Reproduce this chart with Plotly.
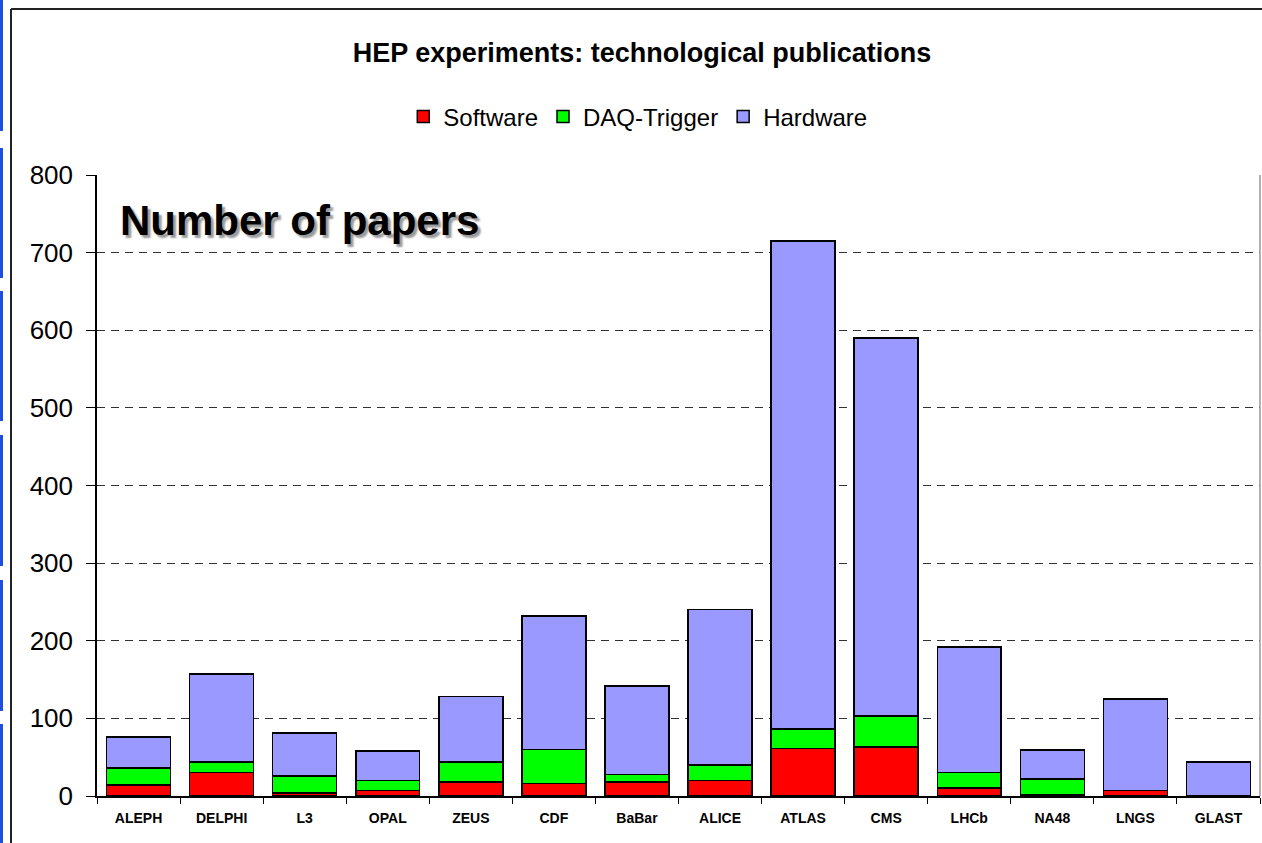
import plotly.graph_objects as go

experiments = ["ALEPH", "DELPHI", "L3", "OPAL", "ZEUS", "CDF", "BaBar", "ALICE",
               "ATLAS", "CMS", "LHCb", "NA48", "LNGS", "GLAST"]
software = [14, 30, 4, 7, 18, 16, 18, 20, 61, 63, 10, 2, 7, 0]
daq_trigger = [22, 14, 22, 13, 26, 44, 10, 20, 25, 40, 20, 20, 0, 0]
hardware = [40, 113, 55, 38, 84, 172, 114, 200, 629, 487, 162, 37, 118, 44]

y_ticks = [0, 100, 200, 300, 400, 500, 600, 700, 800]

FONT = "Arial, Liberation Sans, sans-serif"

fig = go.Figure()
for name, vals, col in [("Software", software, "#FF0000"),
                        ("DAQ-Trigger", daq_trigger, "#00FF00"),
                        ("Hardware", hardware, "#9999FF")]:
    fig.add_trace(go.Bar(x=experiments, y=vals, name=name,
                         marker=dict(color=col, line=dict(color="black", width=1.5))))

shapes = []
# outer chart frame (left and top edges)
shapes.append(dict(type="line", xref="paper", yref="paper", xsizemode="pixel", ysizemode="pixel",
                   xanchor=0, yanchor=0, x0=-86, x1=-86, y0=-60, y1=787,
                   line=dict(color="#222", width=2)))
shapes.append(dict(type="line", xref="paper", yref="paper", xsizemode="pixel", ysizemode="pixel",
                   xanchor=0, yanchor=0, x0=-86, x1=1180, y0=787, y1=787,
                   line=dict(color="#222", width=2)))
# right border of plot area
shapes.append(dict(type="line", xref="paper", yref="paper", x0=1, x1=1, y0=0, y1=1,
                   line=dict(color="#999", width=1.5)))
# blue slide edge segments
for top, bot in [(0, 131), (148, 278), (291, 421), (435, 566), (580, 711), (724, 843)]:
    shapes.append(dict(type="rect", xref="paper", yref="paper", xsizemode="pixel", ysizemode="pixel",
                       xanchor=0, yanchor=0, x0=-97, x1=-94, y0=796 - bot, y1=796 - top,
                       line=dict(width=0), fillcolor="#1f4fe0"))

fig.update_layout(
    barmode="stack",
    bargap=0.23,
    width=1262, height=843,
    margin=dict(l=97, r=2, t=175, b=47),
    paper_bgcolor="white", plot_bgcolor="white",
    font=dict(family=FONT, color="black"),
    title=dict(text="HEP experiments: technological publications", x=0.4686, xref="paper",
               xanchor="center", y=1 - 53 / 843, yref="container", yanchor="middle",
               font=dict(family=FONT, size=27, weight="bold", color="black")),
    legend=dict(orientation="h", x=0.465, xanchor="center", y=1 - 117 / 843, yref="container",
                yanchor="middle", font=dict(family=FONT, size=24), itemwidth=30,
                bgcolor="rgba(0,0,0,0)", traceorder="normal"),
    xaxis=dict(type="category", showline=True, linecolor="black", linewidth=1.5,
               ticks="outside", ticklen=6, tickcolor="black", tickson="boundaries",
               ticklabelstandoff=8,
               tickfont=dict(family=FONT, size=14, weight="bold"), showgrid=False),
    yaxis=dict(range=[0, 800], tickvals=y_ticks, showline=True, linecolor="black", linewidth=1.5,
               ticks="outside", ticklen=9, tickcolor="black", ticklabelstandoff=8,
               tickfont=dict(family=FONT, size=26), showgrid=True, gridcolor="#333",
               griddash="8px,6px", gridwidth=1, zeroline=False),
    shapes=shapes,
    annotations=[dict(text="<b>Number of papers</b>", xref="paper", yref="y", x=0.018, y=742,
                      xanchor="left", yanchor="middle", showarrow=False,
                      font=dict(family=FONT, size=42, color="black",
                                shadow="3px 3px 2px #999"))],
)

fig.write_html("out.html", config={"displayModeBar": False},
               post_script="document.body.style.margin='0';document.body.style.overflow='hidden';")
